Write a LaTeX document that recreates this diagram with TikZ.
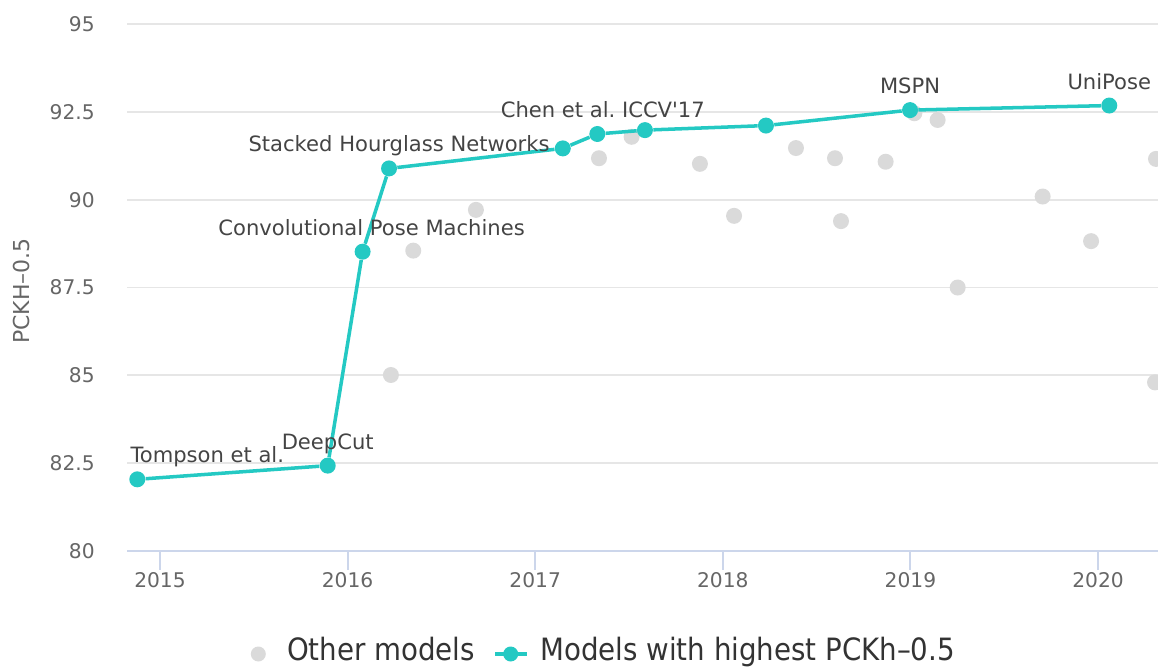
\documentclass[tikz,border=0pt]{standalone}
\usepackage{fontspec}
\setmainfont{DejaVu Sans}
\newfontfamily\condfont{DejaVu Sans Condensed}
\usetikzlibrary{positioning,calc}
\definecolor{bestcol}{HTML}{24C9C3}
\definecolor{othercol}{HTML}{DADADA}
\definecolor{gridcol}{HTML}{E6E6E6}
\definecolor{axiscol}{HTML}{CCD6EB}
\definecolor{ticktext}{HTML}{666666}
\definecolor{labeltext}{HTML}{444444}
\frenchspacing

\begin{document}
\begin{tikzpicture}[x=3.752cm,y=0.7026cm,
  other/.style={circle,fill=othercol,inner sep=0pt,minimum size=0.32cm},
  best/.style={circle,fill=bestcol,inner sep=0pt,minimum size=0.32cm},
  bestline/.style={bestcol,line width=2pt,line join=round},
  lbl/.style={anchor=base,yshift=0.33cm,inner sep=0pt,text=labeltext,font=\fontsize{12}{14}\selectfont},
  axlbl/.style={inner sep=0pt,text=ticktext,font=\fontsize{11.5}{13}\selectfont},
  leg/.style={anchor=base west,inner sep=0pt,text=black!80,font=\condfont\fontsize{17.5}{20}\selectfont}]
\useasboundingbox (-3.2cm,-2.32cm) rectangle (19.96cm,11.02cm);
\clip (-3.2cm,-2.32cm) rectangle (19.96cm,11.02cm);
% grid lines and y labels
\foreach \v/\t [count=\k] in {2.5/82.5,5/85,7.5/87.5,10/90,12.5/92.5,15/95} {
  \draw[gridcol,line width=1.1pt] (-0.1759,\v) -- (5.3198,\v);
  \node[axlbl,anchor=east] (yl\k) at (-0.3465,\v) {\t};
}
\node[axlbl,anchor=east] (yl0) at (-0.3465,0) {80};
\node[axlbl,rotate=90,font=\fontsize{12.5}{14}\selectfont] (ytitle) at (-0.7356,7.401) {PCKH–0.5};
% x axis
\draw[axiscol,line width=1.1pt] (-0.1759,0) -- (5.3198,0);
\foreach \yr [count=\k from 0] in {2015,...,2020} {
  \draw[axiscol,line width=1.1pt] (\k,0) -- (\k,-0.541);
  \node[axlbl,anchor=north] (xl\k) at (\k,-0.589) {\yr};
}
% other models
\foreach \x/\y [count=\i] in {1.231/5.01,1.350/8.55,1.684/9.71,2.340/11.18,2.514/11.79,
    2.878/11.02,3.060/9.54,3.390/11.47,3.598/11.18,3.630/9.39,3.868/11.08,4.021/12.46,
    4.145/12.27,4.252/7.50,4.705/10.09,4.963/8.82,5.309/11.16,5.304/4.80}
  \node[other] (o\i) at (\x,\y) {};
% models with highest PCKh-0.5
\foreach \x/\y [count=\i] in {-0.121/2.04,0.894/2.43,1.080/8.52,1.221/10.89,2.147/11.46,
    2.331/11.87,2.585/11.98,3.230/12.11,3.998/12.55,5.060/12.68}
  \node[best] (b\i) at (\x,\y) {};
\draw[bestline] (b1) -- (b2) -- (b3) -- (b4) -- (b5) -- (b6) -- (b7) -- (b8) -- (b9) -- (b10);
% labels
\node[lbl,xshift=1.4cm] (tompson) at (b1) {Tompson et al.};
\node[lbl] (deepcut) at (b2) {DeepCut};
\node[lbl,xshift=0.18cm] (cpm) at (b3) {Convolutional Pose Machines};
\node[lbl,xshift=0.2cm] (hourglass) at (b4) {Stacked Hourglass Networks};
\node[lbl,xshift=0.11cm] (chen) at (b6) {Chen et al. ICCV\textquotesingle 17};
\node[lbl] (mspn) at (b9) {MSPN};
\node[lbl] (unipose) at (b10) {UniPose};
% legend
\node[other,minimum size=0.3cm] (legother) at (0.524,-2.932) {};
\node[leg] (legothertxt) at (0.6754,-3.13) {Other models};
\coordinate (legA) at (1.7857,-2.932);
\coordinate (legB) at (1.9547,-2.932);
\draw[bestline] (legA) -- (legB);
\node[best,minimum size=0.3cm] (legbest) at (1.8694,-2.932) {};
\node[leg] (legbesttxt) at (2.0256,-3.13) {Models with highest PCKh–0.5};
\end{tikzpicture}
\end{document}
